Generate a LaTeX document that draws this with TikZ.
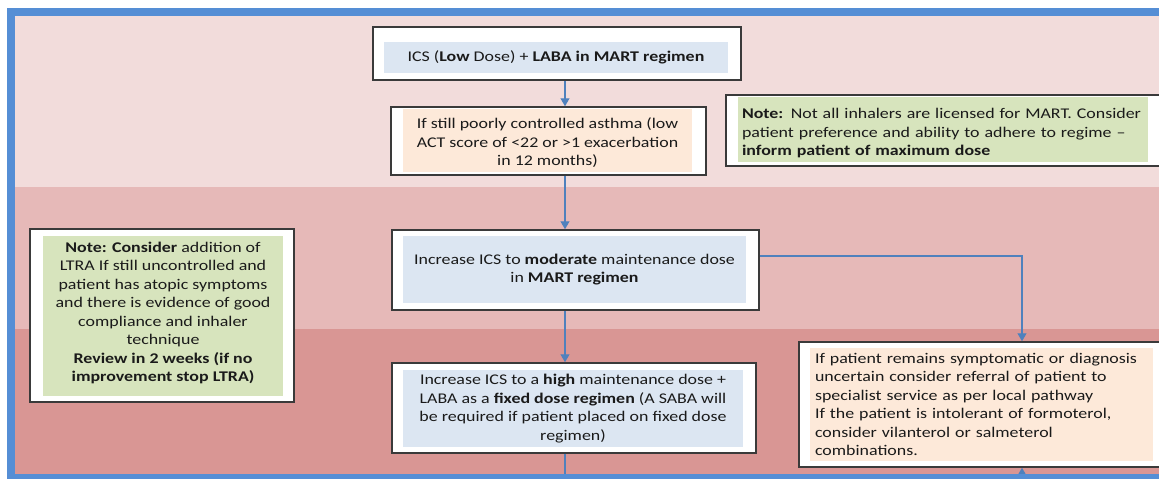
\documentclass[tikz,border=0pt]{standalone}
\usepackage{fontspec}
\setmainfont{Carlito}[FakeStretch=1.21]
\usetikzlibrary{arrows.meta}
\definecolor{bandA}{HTML}{F2DCDB}
\definecolor{bandB}{HTML}{E6B9B8}
\definecolor{bandC}{HTML}{D99694}
\definecolor{frameblue}{HTML}{558ED5}
\definecolor{arrowblue}{HTML}{4F81BD}
\definecolor{blueF}{HTML}{DCE6F2}
\definecolor{peachF}{HTML}{FDE9D9}
\definecolor{greenF}{HTML}{D7E4BD}
\definecolor{boxline}{HTML}{3A3A3A}
\definecolor{txt}{HTML}{1A1A1A}
\tikzset{
  outerbox/.style={draw=boxline, line width=1.5pt, fill=white, inner sep=0pt},
  innerbox/.style={inner sep=4pt, text=txt, font=\fontsize{14.8}{18.5}\selectfont},
  conn/.style={draw=arrowblue, line width=1.2pt},
  arr/.style={conn, -{Triangle[width=9pt,length=8pt]}},
}
\begin{document}
\begin{tikzpicture}[x=1pt,y=-1pt]
\useasboundingbox (0,0) rectangle (1159,479);
% bands
\fill[white] (0,0) rectangle (1159,479);
\fill[bandA] (15,16) rectangle (1159,187);
\fill[bandB] (15,187) rectangle (1159,329);
\fill[bandC] (15,329) rectangle (1159,474);
% coordinates
\coordinate (ax) at (565,0);
\coordinate (rx) at (1022,0);
\coordinate (hy) at (0,256);
\coordinate (bot1) at (565,474);
\coordinate (bot2) at (1022,474);
% box 1
\node[outerbox, minimum width=368, minimum height=53] (b1o) at (557,53.5) {};
\node[innerbox, fill=blueF, minimum width=344, minimum height=31, align=center] (b1) at (556,57.5)
  {ICS (\textbf{Low} Dose) + \textbf{LABA in MART regimen}};
% box 2
\node[outerbox, minimum width=315, minimum height=68] (b2o) at (548.5,141) {};
\node[innerbox, fill=peachF, minimum width=289, minimum height=55, align=center] (b2) at (547.5,140.5)
  {\rule{0pt}{16pt}If still poorly controlled asthma (low\\ACT score of <22 or >1 exacerbation\\in 12 months)};
% note 1
\node[outerbox, minimum width=450, minimum height=71] (n1o) at (951,130.5) {};
\node[innerbox, fill=greenF, text width=402, minimum height=55, align=left] (n1) at (943,129.5)
  {\rule{0pt}{18pt}\textbf{Note:} Not all inhalers are licensed for MART. Consider\\patient preference and ability to adhere to regime –\\\textbf{inform patient of maximum dose}};
% box 3
\node[outerbox, minimum width=367, minimum height=80] (b3o) at (575.5,270) {};
\node[innerbox, fill=blueF, minimum width=343, minimum height=67, align=center] (b3) at (574.5,269.5)
  {Increase ICS to \textbf{moderate} maintenance dose\\in \textbf{MART regimen}};
% box 4
\node[outerbox, minimum width=364, minimum height=90] (b4o) at (574,408) {};
\node[innerbox, fill=blueF, minimum width=340, minimum height=77, align=center] (b4) at (573,408.5)
  {Increase ICS to a \textbf{high} maintenance dose +\\LABA as a \textbf{fixed dose regimen} (A SABA will\\be required if patient placed on fixed dose\\regimen)};
% left note
\node[outerbox, minimum width=264, minimum height=173] (n2o) at (162,315.5) {};
\node[innerbox, fill=greenF, minimum width=240, minimum height=160, align=center] (n2) at (163,316)
  {\textbf{Note: Consider} addition of\\LTRA If still uncontrolled and\\patient has atopic symptoms\\and there is evidence of good\\compliance and inhaler\\technique\\\textbf{Review in 2 weeks (if no}\\\textbf{improvement stop LTRA)}\\[-10.5pt]};
% right box
\node[outerbox, minimum width=380, minimum height=125] (rbo) at (989,404.5) {};
\node[innerbox, fill=peachF, text width=333, minimum height=113, inner sep=5pt, align=left] (rb) at (981.5,404.5)
  {If patient remains symptomatic or diagnosis\\uncertain consider referral of patient to\\specialist service as per local pathway\\If the patient is intolerant of formoterol,\\consider vilanterol or salmeterol\\combinations.};
% connectors
\draw[arr] (b1o.south -| ax) -- (b2o.north -| ax);
\draw[arr] (b2o.south -| ax) -- (b3o.north -| ax);
\draw[arr] (b3o.south -| ax) -- (b4o.north -| ax);
\draw[conn] (b4o.south -| ax) -- (bot1);
\draw[arr] (b3o.east |- hy) -- (rx |- hy) -- (rbo.north -| rx);
\draw[arr] (bot2) -- (rbo.south -| rx);
% frame
\fill[frameblue] (7,8) rectangle (1159,16);
\fill[frameblue] (7,8) rectangle (15,479);
\fill[frameblue] (7,474) rectangle (1159,479);
\end{tikzpicture}
\end{document}
